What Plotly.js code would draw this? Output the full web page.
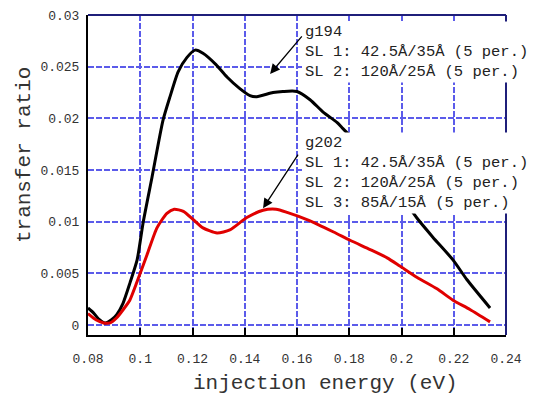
<!DOCTYPE html>
<html>
<head>
<meta charset="utf-8">
<script src="https://cdn.plot.ly/plotly-3.0.1.min.js"></script>
<style>
  html, body { margin: 0; padding: 0; background: #fff; }
  #chart { width: 533px; height: 394px; }
</style>
</head>
<body>
<div id="chart"></div>
<script>
// Sample g194: injection energy (eV) vs transfer ratio
const energyG194 = [0.080, 0.082, 0.084, 0.0865, 0.089, 0.091, 0.0934, 0.0961, 0.0988, 0.1011,
  0.1045, 0.1087, 0.1114, 0.1145, 0.1179, 0.121, 0.124, 0.129, 0.1332, 0.138,
  0.142, 0.1446, 0.1508, 0.1546, 0.160, 0.165, 0.170, 0.1753, 0.1776, 0.183,
  0.190, 0.197, 0.2059, 0.212, 0.2197, 0.225, 0.2339];
const ratioG194 = [0.00165, 0.0012, 0.0006, 0.0002, 0.0005, 0.0010, 0.0021, 0.0041, 0.0063, 0.0099,
  0.0143, 0.0198, 0.0221, 0.0245, 0.0259, 0.0266, 0.0263, 0.0252, 0.0240, 0.0229,
  0.0222, 0.0221, 0.0225, 0.0226, 0.0226, 0.0218, 0.0206, 0.0196, 0.0190, 0.0176,
  0.0157, 0.0135, 0.01035, 0.0085, 0.0063, 0.0044, 0.00165];

// Sample g202
const energyG202 = [0.080, 0.083, 0.086, 0.0885, 0.091, 0.0935, 0.096, 0.0988, 0.1026, 0.1064,
  0.1102, 0.113, 0.1165, 0.1203, 0.124, 0.1294, 0.1343, 0.1408, 0.147, 0.152,
  0.1562, 0.1638, 0.174, 0.1803, 0.188, 0.1945, 0.1994, 0.206, 0.2136, 0.2197,
  0.2262, 0.2339];
const ratioG202 = [0.0011, 0.0005, 0.0002, 0.0002, 0.0007, 0.0015, 0.0024, 0.0042, 0.0068, 0.0094,
  0.0108, 0.0112, 0.0110, 0.0102, 0.0094, 0.0089, 0.0092, 0.0104, 0.0111, 0.0112,
  0.0109, 0.0102, 0.0090, 0.0082, 0.0073, 0.0065, 0.0057, 0.0046, 0.0035, 0.0024,
  0.0015, 0.0003];

const xTicks = [0.08, 0.1, 0.12, 0.14, 0.16, 0.18, 0.2, 0.22, 0.24];
const xTickText = ['0.08', '0.1', '0.12', '0.14', '0.16', '0.18', '0.2', '0.22', '0.24'];
const yTicks = [0, 0.005, 0.01, 0.015, 0.02, 0.025, 0.03];
const yTickText = ['0', '0.005', '0.01', '0.015', '0.02', '0.025', '0.03'];

const xTitle = 'injection energy (eV)';
const yTitle = 'transfer ratio';
const labelG194 = 'g194<br>SL 1: 42.5Å/35Å (5 per.)<br>SL 2: 120Å/25Å (5 per.)';
const labelG202 = 'g202<br>SL 1: 42.5Å/35Å (5 per.)<br>SL 2: 120Å/25Å (5 per.)<br>SL 3: 85Å/15Å (5 per.)';

const MONO = '"Liberation Mono", "DejaVu Sans Mono", monospace';
const GRID = '#5b5bea';

const traces = [
  {
    x: energyG194, y: ratioG194, type: 'scatter', mode: 'lines', name: 'g194',
    line: { color: '#000000', width: 3, shape: 'spline', smoothing: 0.6 },
    hoverinfo: 'x+y'
  },
  {
    x: energyG202, y: ratioG202, type: 'scatter', mode: 'lines', name: 'g202',
    line: { color: '#e00000', width: 3, shape: 'spline', smoothing: 0.6 },
    hoverinfo: 'x+y'
  }
];

const layout = {
  width: 533, height: 394,
  margin: { l: 88, r: 27, t: 15, b: 59 },
  paper_bgcolor: '#ffffff', plot_bgcolor: '#ffffff',
  showlegend: false,
  font: { family: MONO, color: '#333333' },
  xaxis: {
    range: [0.08, 0.24],
    tickvals: xTicks, ticktext: xTickText,
    tickfont: { family: MONO, size: 13, color: '#333333' },
    ticks: 'inside', ticklen: 7, tickwidth: 2, tickcolor: '#000000',
    ticklabelstandoff: 10,
    showgrid: true, gridcolor: GRID, gridwidth: 2, griddash: '6px,2px',
    zeroline: false,
    showline: true, linecolor: '#000000', linewidth: 2
  },
  yaxis: {
    range: [-0.00097, 0.03],
    tickvals: yTicks, ticktext: yTickText,
    tickfont: { family: MONO, size: 13, color: '#333333' },
    ticks: '', ticklabelstandoff: 4,
    showgrid: true, gridcolor: GRID, gridwidth: 2, griddash: '6px,2px',
    zeroline: false,
    showline: true, linecolor: '#000000', linewidth: 2
  },
  shapes: [
    { type: 'line', xref: 'paper', yref: 'paper', x0: 0, x1: 1, y0: 1, y1: 1,
      line: { color: '#1f1f7a', width: 2 } },
    { type: 'line', xref: 'paper', yref: 'paper', x0: 1, x1: 1, y0: 0, y1: 1,
      line: { color: '#1f1f7a', width: 2 } }
  ],
  annotations: [
    // axis titles, placed off-centre as in the original figure
    { xref: 'paper', yref: 'paper', x: 0.569, y: -0.15, xanchor: 'center', yanchor: 'middle',
      text: xTitle, showarrow: false, font: { family: MONO, size: 21, color: '#333333' } },
    { xref: 'paper', yref: 'paper', x: -0.153, y: 0.5625, xanchor: 'center', yanchor: 'middle',
      textangle: -90, text: yTitle, showarrow: false, font: { family: MONO, size: 21, color: '#333333' } },
    // sample descriptions
    { xref: 'paper', yref: 'paper', x: 0.514, y: 0.98, xanchor: 'left', yanchor: 'top',
      text: labelG194, align: 'left', showarrow: false, bgcolor: '#ffffff', borderpad: 1,
      font: { family: MONO, size: 15.5, color: '#222222' } },
    { xref: 'paper', yref: 'paper', x: 0.514, y: 0.633, xanchor: 'left', yanchor: 'top',
      text: labelG202, align: 'left', showarrow: false, bgcolor: '#ffffff', borderpad: 1,
      font: { family: MONO, size: 15.5, color: '#222222' } },
    { x: 0.1497, y: 0.0243, ax: 33, ay: -39, text: '', showarrow: true,
      arrowhead: 2, arrowsize: 1.5, arrowwidth: 1.3, arrowcolor: '#000000' },
    { x: 0.147, y: 0.0113, ax: 36, ay: -55, text: '', showarrow: true,
      arrowhead: 2, arrowsize: 1.5, arrowwidth: 1.3, arrowcolor: '#000000' }
  ]
};

Plotly.newPlot('chart', traces, layout, { displayModeBar: false, staticPlot: true });
</script>
</body>
</html>
